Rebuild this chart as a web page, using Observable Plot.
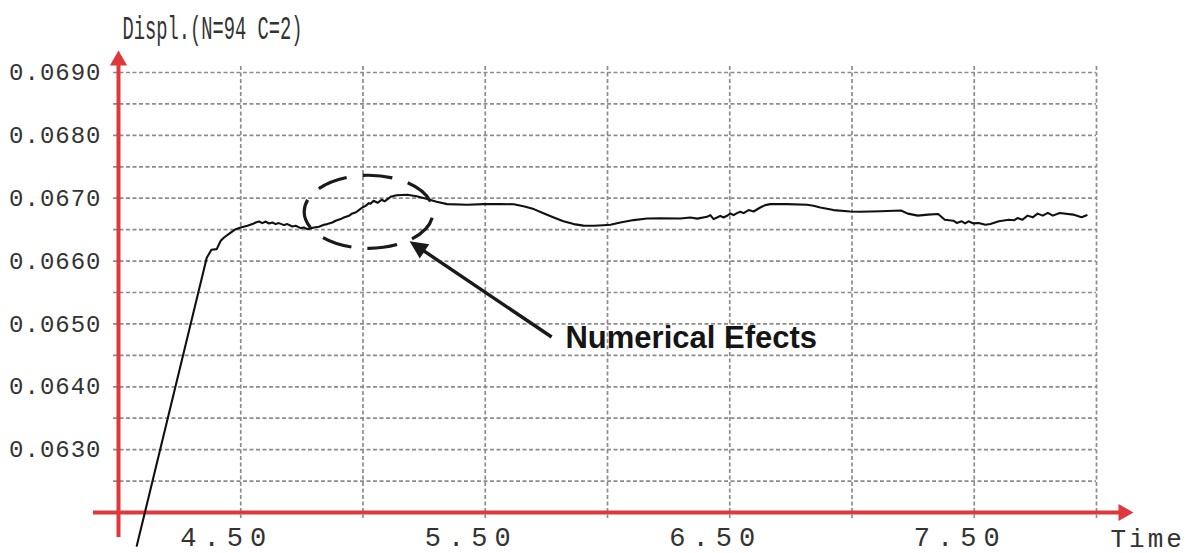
<!DOCTYPE html>
<html><head><meta charset="utf-8">
<script src="https://cdn.jsdelivr.net/npm/d3@7"></script>
<script src="https://cdn.jsdelivr.net/npm/@observablehq/plot@0.6"></script>
<style>html,body{margin:0;padding:0;background:#fff;overflow:hidden;}</style>
</head><body><div id="chart"></div>
<script>
// ---- data ----
const time = [
  4.0748, 4.3609, 4.3801, 4.4017, 4.4181, 4.4316, 4.4589, 4.4794, 4.4998, 4.5272,
  4.5476, 4.5611, 4.5746, 4.5885, 4.6020, 4.6155, 4.6293, 4.6428, 4.6563, 4.6768,
  4.6907, 4.7111, 4.7246, 4.7450, 4.7585, 4.7724, 4.7994, 4.8198, 4.8402, 4.8541,
  4.8745, 4.8880, 4.9085, 4.9219, 4.9424, 4.9563, 4.9698, 4.9832, 4.9971, 5.0106,
  5.0241, 5.0310, 5.0433, 5.0597, 5.0760, 5.0883, 5.1128, 5.1373, 5.1810, 5.2190,
  5.2628, 5.3008, 5.3445, 5.4262, 5.4941, 5.5623, 5.6167, 5.6563, 5.6984, 5.7380,
  5.7801, 5.8198, 5.8619, 5.9015, 5.9436, 5.9832, 6.0118, 6.0527, 6.1071, 6.1618,
  6.2162, 6.2979, 6.3388, 6.3674, 6.4070, 6.4205, 6.4340, 6.4479, 6.4614,
  6.4748, 6.4887, 6.5022, 6.5157, 6.5296, 6.5431, 6.5566, 6.5770, 6.5975, 6.6248,
  6.6453, 6.6657, 6.7339, 6.8157, 6.8427, 6.8700, 6.9244, 6.9926, 7.0335, 7.1173,
  7.2003, 7.2281, 7.2693, 7.3106, 7.3522, 7.3796, 7.4144, 7.4283, 7.4487, 7.4626,
  7.4765, 7.4969, 7.5178, 7.5455, 7.5660, 7.6007, 7.6420, 7.6628, 7.6767, 7.6972,
  7.7180, 7.7389, 7.7593, 7.7801, 7.8010, 7.8214, 7.8492, 7.9044, 7.9392, 7.9596
];
const displ = [
  0.061470, 0.066052, 0.066179, 0.066190, 0.066322, 0.066375, 0.066454, 0.066508, 0.066534, 0.066561,
  0.066588, 0.066613, 0.066629, 0.066604, 0.066629, 0.066598, 0.066613, 0.066588, 0.066604, 0.066572,
  0.066588, 0.066550, 0.066561, 0.066524, 0.066534, 0.066508, 0.066534, 0.066545, 0.066577, 0.066588,
  0.066613, 0.066641, 0.066668, 0.066693, 0.066720, 0.066757, 0.066773, 0.066811, 0.066852, 0.066879,
  0.066922, 0.066911, 0.066959, 0.066927, 0.066975, 0.066951, 0.067022, 0.067046, 0.067054, 0.067030,
  0.066986, 0.066943, 0.066906, 0.066895, 0.066906, 0.066908, 0.066903, 0.066871, 0.066827, 0.066760,
  0.066693, 0.066633, 0.066588, 0.066564, 0.066561, 0.066569, 0.066577, 0.066613, 0.066652, 0.066677,
  0.066680, 0.066677, 0.066693, 0.066675, 0.066704, 0.066731, 0.066668, 0.066693, 0.066720,
  0.066693, 0.066720, 0.066757, 0.066731, 0.066763, 0.066784, 0.066763, 0.066811, 0.066789, 0.066852,
  0.066890, 0.066906, 0.066906, 0.066895, 0.066879, 0.066852, 0.066811, 0.066789, 0.066784, 0.066793,
  0.066804, 0.066755, 0.066723, 0.066739, 0.066750, 0.066658, 0.066642, 0.066606, 0.066633, 0.066599,
  0.066633, 0.066599, 0.066606, 0.066578, 0.066590, 0.066633, 0.066658, 0.066649, 0.066685, 0.066658,
  0.066723, 0.066696, 0.066755, 0.066723, 0.066766, 0.066723, 0.066766, 0.066739, 0.066696, 0.066728
];
const xTickValues = [4.5, 5.5, 6.5, 7.5];
const yTickValues = [0.063, 0.064, 0.065, 0.066, 0.067, 0.068, 0.069];
const xGridValues = [4.5, 5.0, 5.5, 6.0, 6.5, 7.0, 7.5, 8.0];
const yGridValues = [0.0625, 0.063, 0.0635, 0.064, 0.0645, 0.065, 0.0655, 0.066, 0.0665, 0.067, 0.0675, 0.068, 0.0685, 0.069];
const xDomain = [4, 8];
const yDomain = [0.062, 0.069];
const yTitle = "Displ.(N=94 C=2)";
const xTitle = "Time";
const noteText = "Numerical Efects";
const noteCenter = [5.025, 0.066776];
const noteRadius = [0.2636, 0.000581];
const arrowFrom = [5.7736, 0.064784];
const arrowTo = [5.1925, 0.066307];
const noteTextAt = [5.828, 0.064625];

// ---- styles ----
const RED = "#e0383a";
const GRID = "#8c8c8c";

function annotation(index, scales) {
  const ns = "http://www.w3.org/2000/svg";
  const g = document.createElementNS(ns, "g");
  g.setAttribute("aria-label", "annotation");
  const cx = scales.x(noteCenter[0]), cy = scales.y(noteCenter[1]);
  const rx = Math.abs(scales.x(noteCenter[0] + noteRadius[0]) - cx);
  const ry = Math.abs(scales.y(noteCenter[1] + noteRadius[1]) - cy);
  const e = document.createElementNS(ns, "ellipse");
  e.setAttribute("cx", cx); e.setAttribute("cy", cy);
  e.setAttribute("rx", rx); e.setAttribute("ry", ry);
  e.setAttribute("fill", "none"); e.setAttribute("stroke", "#1a1a1a");
  e.setAttribute("stroke-width", 3.2);
  e.setAttribute("stroke-dasharray", "30,16");
  e.setAttribute("stroke-dashoffset", "-6");
  g.appendChild(e);
  const x1 = scales.x(arrowFrom[0]), y1 = scales.y(arrowFrom[1]);
  const x2 = scales.x(arrowTo[0]), y2 = scales.y(arrowTo[1]);
  const L = Math.hypot(x2 - x1, y2 - y1);
  const ux = (x2 - x1) / L, uy = (y2 - y1) / L;
  const head = 18, half = 8.5;
  const bx = x2 - ux * head, by = y2 - uy * head;
  const line = document.createElementNS(ns, "line");
  line.setAttribute("x1", x1); line.setAttribute("y1", y1);
  line.setAttribute("x2", x2 - ux * 8); line.setAttribute("y2", y2 - uy * 8);
  line.setAttribute("stroke", "#1a1a1a"); line.setAttribute("stroke-width", 3.4);
  g.appendChild(line);
  const poly = document.createElementNS(ns, "polygon");
  poly.setAttribute("points", `${x2},${y2} ${bx - uy * half},${by + ux * half} ${bx + uy * half},${by - ux * half}`);
  poly.setAttribute("fill", "#1a1a1a");
  g.appendChild(poly);
  return g;
}

const chart = Plot.plot({
  width: 1192,
  height: 553,
  marginLeft: 118,
  marginRight: 96,
  marginTop: 72,
  marginBottom: 41,
  style: {background: "#fff", overflow: "visible"},
  x: {domain: xDomain, axis: null},
  y: {domain: yDomain, axis: null},
  marks: [
    Plot.ruleY(yGridValues, {stroke: GRID, strokeWidth: 1.7, strokeDasharray: "4,2.5", insetLeft: -5}),
    Plot.ruleX(xGridValues, {stroke: GRID, strokeWidth: 1.7, strokeDasharray: "4,2.5", insetTop: -6, insetBottom: -6}),
    Plot.axisY(yTickValues, {tickSize: 0, tickPadding: 17, tickFormat: d => d.toFixed(4), fontSize: 24, fontFamily: "Liberation Mono", fill: "#333", label: null}),
    Plot.axisX(xTickValues, {tickSize: 0, tickPadding: 14, tickFormat: d => d.toFixed(2), fontSize: 27, fontFamily: "Liberation Mono", fill: "#333", dx: -14, label: null}),
    Plot.ruleY([yDomain[0]], {stroke: RED, strokeWidth: 4, insetLeft: -25, insetRight: -28}),
    Plot.ruleX([xDomain[0]], {stroke: RED, strokeWidth: 4, insetTop: -17, insetBottom: -25}),
    Plot.dot([xDomain[1]], {x: d => d, y: yDomain[0], symbol: "triangle", r: 6.4, fill: RED, stroke: null, rotate: 90, dx: 27}),
    Plot.dot([xDomain[0]], {x: d => d, y: yDomain[1], symbol: "triangle", r: 6.4, fill: RED, stroke: null, dy: -12}),
    Plot.line(time, {x: time, y: displ, stroke: "#111", strokeWidth: 2.1, strokeLinejoin: "round"}),
    annotation,
    Plot.text([noteText], {x: noteTextAt[0], y: noteTextAt[1], text: d => d, textAnchor: "start", lineAnchor: "bottom", fontSize: 31, fontWeight: "bold", fontFamily: "Liberation Sans", fill: "#151515"}),
    Plot.text([yTitle], {frameAnchor: "top-left", text: d => d, textAnchor: "start", lineAnchor: "bottom", dx: 4, dy: -33.5, fontSize: 33, fontFamily: "Liberation Mono", fill: "#333"}),
    Plot.text([xTitle], {frameAnchor: "bottom-right", text: d => d, textAnchor: "start", lineAnchor: "bottom", dx: 14, dy: 34, fontSize: 26, fontFamily: "Liberation Mono", fill: "#333"})
  ]
});
document.getElementById("chart").appendChild(chart);
const s = d3.select(chart);
s.selectAll('g[aria-label="x-axis tick label"] text').attr("letter-spacing", 7);
s.selectAll('g[aria-label="y-axis tick label"] text').attr("letter-spacing", 1);
s.selectAll("text").filter(function () { return this.textContent === xTitle; }).attr("letter-spacing", 3);
s.selectAll("text").filter(function () { return this.textContent === yTitle; })
  .attr("textLength", 180).attr("lengthAdjust", "spacingAndGlyphs");
</script>
</body></html>
